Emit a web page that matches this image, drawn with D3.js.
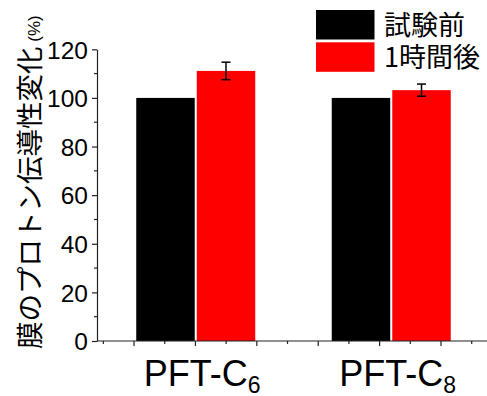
<!DOCTYPE html>
<html>
<head>
<meta charset="utf-8">
<script src="https://cdn.jsdelivr.net/npm/d3@7"></script>
<style>
  html, body { margin: 0; padding: 0; background: #fff; }
  svg { display: block; }
</style>
</head>
<body>
<svg id="chart" width="487" height="396"></svg>
<script>
// Membrane proton conductivity change before / after 1 hour
const categories = ["PFT-C6", "PFT-C8"];
const categoryMain = ["PFT-C", "PFT-C"];
const categorySub = ["6", "8"];
const seriesNames = ["試験前", "1時間後"];
const seriesColors = ["#000000", "#ff0000"];
const beforeValues = [100, 100];
const afterValues = [111.1, 103.2];
const afterErrors = [3.6, 2.5];
const yTicks = [0, 20, 40, 60, 80, 100, 120];
const yMinorTicks = [10, 30, 50, 70, 90, 110];

const svg = d3.select("#chart");
const axisColor = "#222";

const y = d3.scaleLinear().domain([0, 120]).range([341, 49.3]);
const xCat = d3.scalePoint().domain(categories).range([98, 489]).padding(0.5);
const xSub = d3.scaleBand().domain([0, 1]).range([-59.5, 59.5]).paddingInner(0.034);
// linear helper scale used only for the x-axis tick marks
const xTickScale = d3.scaleLinear().domain([0.397, 6.749]).range([97, 487]);

const seriesData = [beforeValues, afterValues];

// bars
seriesData.forEach((vals, si) => {
  svg.append("g").selectAll("rect")
    .data(vals)
    .join("rect")
    .attr("x", (d, i) => xCat(categories[i]) + xSub(si))
    .attr("width", xSub.bandwidth())
    .attr("y", d => y(d))
    .attr("height", d => y(0) - y(d))
    .attr("fill", seriesColors[si]);
});

// error bars on the after-test series
const eb = svg.append("g").attr("stroke", "#000").attr("stroke-width", 1.5);
afterValues.forEach((v, i) => {
  const cx = xCat(categories[i]) + xSub(1) + xSub.bandwidth() / 2;
  const top = y(v + afterErrors[i]);
  const bot = y(v - afterErrors[i]);
  eb.append("line").attr("x1", cx).attr("x2", cx).attr("y1", top).attr("y2", bot);
  eb.append("line").attr("x1", cx - 4.5).attr("x2", cx + 4.5).attr("y1", top).attr("y2", top);
  eb.append("line").attr("x1", cx - 4.5).attr("x2", cx + 4.5).attr("y1", bot).attr("y2", bot);
});

// y axis
const yAxisG = svg.append("g").attr("transform", "translate(97,0)");
yAxisG.call(d3.axisLeft(y).tickValues(yTicks).tickSize(5).tickSizeOuter(0).tickFormat(d3.format("d")));
yAxisG.select(".domain").attr("stroke", axisColor).attr("stroke-width", 1.2);
yAxisG.selectAll(".tick line").attr("stroke", axisColor).attr("stroke-width", 1.2);
yAxisG.selectAll(".tick text")
  .attr("x", -9).attr("dy", "0.36em")
  .attr("font-family", "Liberation Sans, Arial, sans-serif")
  .attr("font-size", 24.5).attr("fill", "#000");
yAxisG.selectAll(".minor").data(yMinorTicks).join("line")
  .attr("class", "minor")
  .attr("x1", -3).attr("x2", 0)
  .attr("y1", d => y(d)).attr("y2", d => y(d))
  .attr("stroke", axisColor).attr("stroke-width", 1.2);

// x axis line and tick marks
const xAxisG = svg.append("g").attr("transform", "translate(0,341)");
xAxisG.append("line").attr("x1", 97).attr("x2", 487).attr("y1", 0).attr("y2", 0)
  .attr("stroke", axisColor).attr("stroke-width", 1.2);
const xMajor = d3.range(1, 7);
const xMinor = d3.range(0.5, 6.6, 1);
xAxisG.selectAll(".xmaj").data(xMajor).join("line").attr("class", "xmaj")
  .attr("x1", d => xTickScale(d)).attr("x2", d => xTickScale(d))
  .attr("y1", 0).attr("y2", 5).attr("stroke", axisColor).attr("stroke-width", 1.2);
xAxisG.selectAll(".xmin").data(xMinor).join("line").attr("class", "xmin")
  .attr("x1", d => xTickScale(d)).attr("x2", d => xTickScale(d))
  .attr("y1", 0).attr("y2", 3).attr("stroke", axisColor).attr("stroke-width", 1.2);

// category labels with subscripts (main part centred on the group)
categories.forEach((c, i) => {
  const t = svg.append("text")
    .attr("y", 386)
    .attr("font-family", "Liberation Sans, Arial, sans-serif")
    .attr("font-size", 36).attr("fill", "#000");
  const main = t.append("tspan").text(categoryMain[i]);
  t.append("tspan").attr("font-size", 23).attr("dy", 6.5).text(categorySub[i]);
  const w = main.node().getComputedTextLength();
  t.attr("x", xCat(c) - w / 2);
});

// y axis title
const title = svg.append("text")
  .attr("transform", "translate(40,349) rotate(-90)")
  .attr("font-family", "Noto Sans CJK JP, sans-serif")
  .attr("font-size", 27.5).attr("fill", "#000");
title.append("tspan").text("膜のプロトン伝導性変化");
title.append("tspan").attr("font-size", 17).attr("font-family", "Liberation Sans, Arial, sans-serif").text(" (%)");

// legend
const legend = svg.append("g");
seriesNames.forEach((name, i) => {
  const ly = 10 + i * 32.3;
  legend.append("rect").attr("x", 316).attr("y", ly).attr("width", 58.5).attr("height", 29.5)
    .attr("fill", seriesColors[i]);
  legend.append("text").attr("x", 384).attr("y", ly + 15).attr("dy", "0.36em")
    .attr("font-family", "Noto Sans CJK JP, sans-serif")
    .attr("font-size", 27).attr("fill", "#000").text(name);
});
</script>
</body>
</html>
